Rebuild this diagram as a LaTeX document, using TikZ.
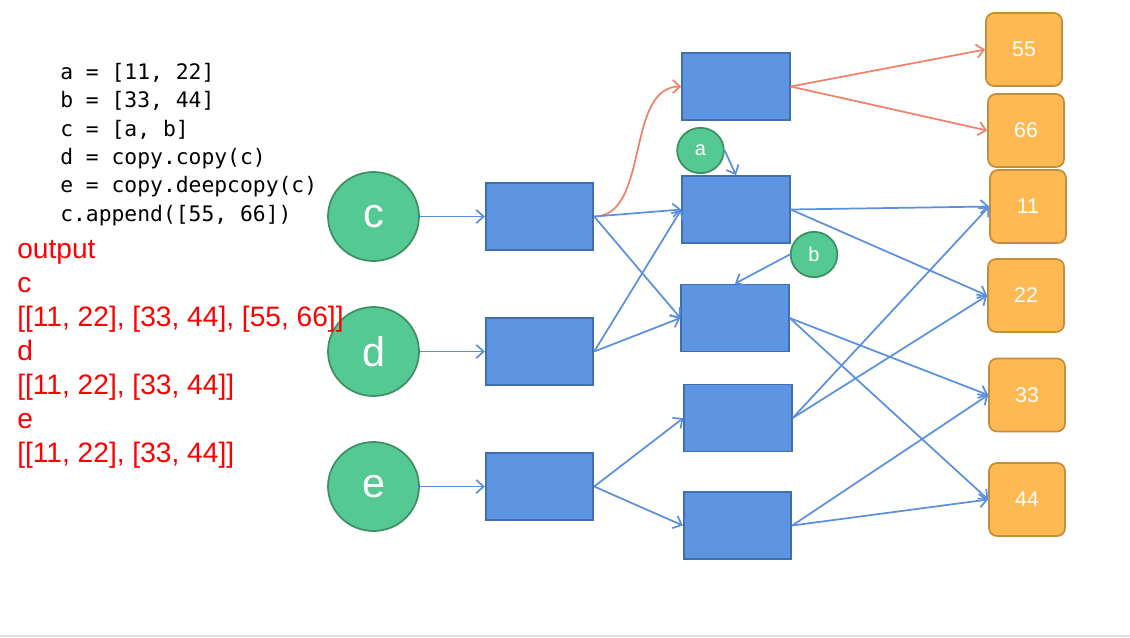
\documentclass[tikz,border=0pt]{standalone}
\usepackage{fontspec}
\setmainfont{Liberation Sans}
\newfontfamily\codefont{DejaVu Sans Mono}
\usetikzlibrary{arrows.meta,shapes.geometric}
\definecolor{grfill}{RGB}{84,201,147}
\definecolor{grdraw}{RGB}{61,143,100}
\definecolor{blfill}{RGB}{94,149,227}
\definecolor{bldraw}{RGB}{65,110,175}
\definecolor{blline}{RGB}{91,144,225}
\definecolor{orfill}{RGB}{255,185,82}
\definecolor{ordraw}{RGB}{196,142,60}
\definecolor{orline}{RGB}{240,130,105}
\definecolor{rulegray}{RGB}{224,224,224}
\begin{document}
\begin{tikzpicture}[x=0.75pt,y=-0.75pt,
  bigcirc/.style={ellipse, draw=grdraw, fill=grfill, line width=1.3pt, minimum width=68.25pt, minimum height=66.75pt, inner sep=0pt, text=white, font=\fontsize{31}{31}\selectfont},
  smallcirc/.style={ellipse, draw=grdraw, fill=grfill, line width=1.3pt, minimum width=35pt, minimum height=34pt, inner sep=0pt, text=white, font=\fontsize{15}{15}\selectfont},
  refbox/.style={rectangle, draw=bldraw, fill=blfill, line width=1.4pt, minimum width=80.6pt, minimum height=50.25pt, inner sep=0pt},
  valbox/.style={rectangle, rounded corners=6pt, draw=ordraw, fill=orfill, line width=1.3pt, minimum width=57pt, minimum height=54.75pt, inner sep=0pt, text=white, font=\fontsize{16}{16}\selectfont},
  conn/.style={draw=blline, line width=1.3pt, -{Straight Barb[length=5.5pt,width=10pt]}},
  oconn/.style={conn, draw=orline},
  codeline/.style={anchor=base west, inner sep=0pt, font=\codefont\fontsize{16}{16}\selectfont},
  outtext/.style={anchor=base west, inner sep=0pt, text=red, font=\fontsize{21.1}{21.1}\selectfont}
]
\useasboundingbox (0,0) rectangle (1130,637);
\fill[rulegray] (0,634.5) rectangle (1130,637);

% variables
\node[bigcirc] (c) at (373.5,216.5) {c};
\node[bigcirc] (d) at (373.5,351.5) {d};
\node[bigcirc] (e) at (373.5,486.5) {e};

% code
\node[codeline] (l1) at (60,79) {a = [11, 22]};
\node[codeline] (l2) at (60,107.5) {b = [33, 44]};
\node[codeline] (l3) at (60,136) {c = [a, b]};
\node[codeline] (l4) at (60,164) {d = copy.copy(c)};
\node[codeline] (l5) at (60,192.5) {e = copy.deepcopy(c)};
\node[codeline] (l6) at (60,221) {c.append([55, 66])};

% output
\node[outtext] (o1) at (17,258) {output};
\node[outtext] (o2) at (17,292) {c};
\node[outtext] (o3) at (17,326) {[[11, 22], [33, 44], [55, 66]]};
\node[outtext] (o4) at (17,360) {d};
\node[outtext] (o5) at (17,394) {[[11, 22], [33, 44]]};
\node[outtext] (o6) at (17,428) {e};
\node[outtext] (o7) at (17,462) {[[11, 22], [33, 44]]};

% first column
\node[refbox] (r1) at (539.5,216.5) {};
\node[refbox] (r2) at (539.5,351.5) {};
\node[refbox] (r3) at (539.5,486.5) {};

% second column
\node[refbox] (t) at (736,86.5) {};
\node[refbox] (ra) at (736,209.5) {};
\node[refbox] (rb) at (735,318) {};
\node[refbox] (r4) at (738,418) {};
\node[refbox] (r5) at (737.5,525.5) {};

\node[smallcirc] (a) at (700.5,150.5) {a};
\node[smallcirc] (b) at (814,254.5) {b};

% values
\node[valbox] (v55) at (1024,49.5) {55};
\node[valbox] (v66) at (1026,130.5) {66};
\node[valbox] (v11) at (1028,206.5) {11};
\node[valbox] (v22) at (1026,295.5) {22};
\node[valbox] (v33) at (1027,395) {33};
\node[valbox] (v44) at (1027,499.5) {44};

% connectors
\draw[conn] (c) -- (r1.west);
\draw[conn] (d) -- (r2.west);
\draw[conn] (e) -- (r3.west);

\draw[oconn] (r1.east) .. controls (650,216.5) and (625,86.5) .. (t.west);
\draw[conn] (r1.east) -- (ra.west);
\draw[conn] (r1.east) -- (rb.west);
\draw[conn] (r2.east) -- (ra.west);
\draw[conn] (r2.east) -- (rb.west);
\draw[conn] (r3.east) -- (r4.west);
\draw[conn] (r3.east) -- (r5.west);

\draw[conn] (a.east) -- (ra.north);
\draw[conn] (b.west) -- (rb.north);

\draw[oconn] (t.east) -- (v55.west);
\draw[oconn] (t.east) -- (v66.west);
\draw[conn] (ra.east) -- (v11.west);
\draw[conn] (ra.east) -- (v22.west);
\draw[conn] (rb.east) -- (v33.west);
\draw[conn] (rb.east) -- (v44.west);
\draw[conn] (r4.east) -- (v11.west);
\draw[conn] (r4.east) -- (v22.west);
\draw[conn] (r5.east) -- (v33.west);
\draw[conn] (r5.east) -- (v44.west);
\end{tikzpicture}
\end{document}
